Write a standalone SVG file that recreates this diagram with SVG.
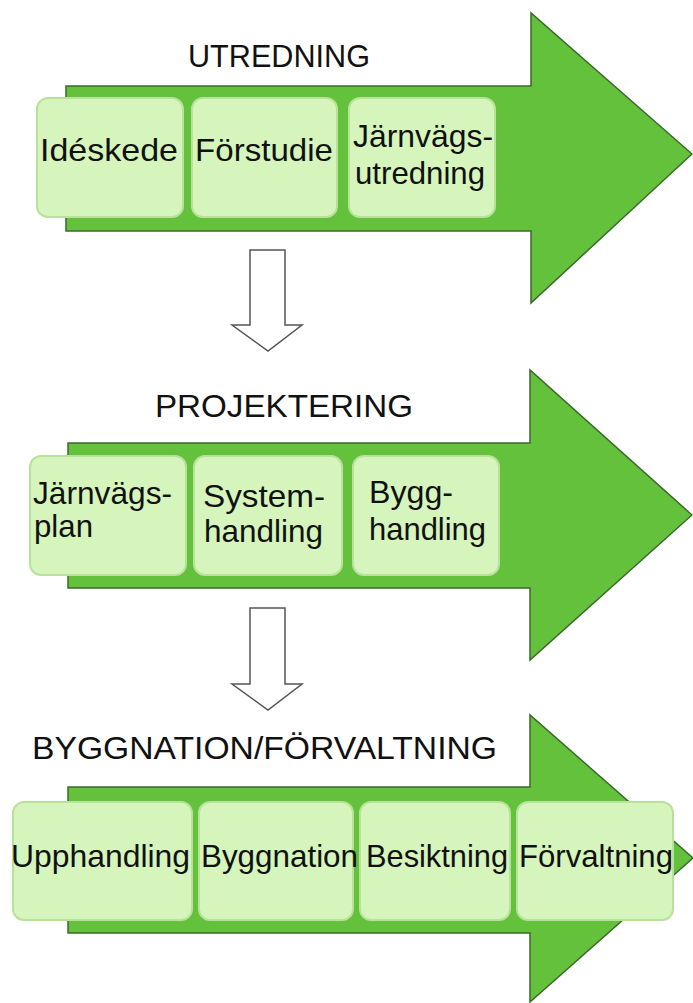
<svg xmlns="http://www.w3.org/2000/svg" width="693" height="1003" viewBox="0 0 693 1003">
<style>
.bg{fill:#ffffff}
.big{fill:#63c13c;stroke:#3a6a2a;stroke-width:1.5;stroke-linejoin:miter}
.box{fill:#d5f5bd;stroke:#b9e19c;stroke-width:2}
.t{font-family:"Liberation Sans",Arial,sans-serif;font-size:31px;fill:#111}
.b{font-size:32px}
.flow{fill:#ffffff;stroke:#555;stroke-width:1.5;stroke-linejoin:miter}
</style>
<rect class="bg" x="0" y="0" width="693" height="1003"/>

<g id="utredning">
  <path class="big" d="M66,86 H531 V13 L692,154 L531,303 V231 H66 Z"/>
  <text class="t" x="188" y="67" textLength="182" lengthAdjust="spacingAndGlyphs">UTREDNING</text>
</g>
<g id="ideskede">
  <rect class="box" x="37" y="98" width="146" height="119" rx="11"/>
  <text class="t b" x="40" y="161" textLength="138" lengthAdjust="spacingAndGlyphs">Idéskede</text>
</g>
<g id="forstudie">
  <rect class="box" x="192" y="98" width="145" height="119" rx="11"/>
  <text class="t b" x="195" y="161" textLength="138" lengthAdjust="spacingAndGlyphs">Förstudie</text>
</g>
<g id="jarnvagsutredning">
  <rect class="box" x="349" y="98" width="146" height="119" rx="11"/>
  <text class="t b" x="353" y="147" textLength="140" lengthAdjust="spacingAndGlyphs">Järnvägs-</text>
  <text class="t b" x="355" y="184" textLength="130" lengthAdjust="spacingAndGlyphs">utredning</text>
</g>

<g id="projektering">
  <path class="big" d="M68,443 H530 V370 L692,515 L530,660 V588 H68 Z"/>
  <text class="t" x="155" y="417" textLength="258" lengthAdjust="spacingAndGlyphs">PROJEKTERING</text>
</g>
<g id="jarnvagsplan">
  <rect class="box" x="30" y="456" width="156" height="119" rx="11"/>
  <text class="t b" x="33" y="504" textLength="139" lengthAdjust="spacingAndGlyphs">Järnvägs-</text>
  <text class="t b" x="34" y="537" textLength="59" lengthAdjust="spacingAndGlyphs">plan</text>
</g>
<g id="systemhandling">
  <rect class="box" x="194" y="456" width="148" height="119" rx="11"/>
  <text class="t b" x="203" y="507" textLength="122" lengthAdjust="spacingAndGlyphs">System-</text>
  <text class="t b" x="204" y="542" textLength="119" lengthAdjust="spacingAndGlyphs">handling</text>
</g>
<g id="bygghandling">
  <rect class="box" x="353" y="456" width="146" height="119" rx="11"/>
  <text class="t b" x="369" y="503" textLength="84" lengthAdjust="spacingAndGlyphs">Bygg-</text>
  <text class="t b" x="369" y="540" textLength="117" lengthAdjust="spacingAndGlyphs">handling</text>
</g>

<g id="byggnation-forvaltning">
  <path class="big" d="M68,787 H530 V715 L693,858 L530,1002 V933 H68 Z"/>
  <text class="t" x="32" y="759" textLength="465" lengthAdjust="spacingAndGlyphs">BYGGNATION/FÖRVALTNING</text>
</g>
<g id="upphandling">
  <rect class="box" x="13" y="802" width="179" height="118" rx="11"/>
  <text class="t b" x="11" y="867" textLength="179" lengthAdjust="spacingAndGlyphs">Upphandling</text>
</g>
<g id="byggnation">
  <rect class="box" x="199" y="802" width="154" height="118" rx="11"/>
  <text class="t b" x="201" y="867" textLength="157" lengthAdjust="spacingAndGlyphs">Byggnation</text>
</g>
<g id="besiktning">
  <rect class="box" x="360" y="802" width="150" height="118" rx="11"/>
  <text class="t b" x="366" y="867" textLength="142" lengthAdjust="spacingAndGlyphs">Besiktning</text>
</g>
<g id="forvaltning">
  <rect class="box" x="517" y="802" width="156" height="118" rx="11"/>
  <text class="t b" x="519" y="867" textLength="154" lengthAdjust="spacingAndGlyphs">Förvaltning</text>
</g>

<g id="connectors">
  <path class="flow" d="M250,250 H285 V325 H302 L268,351 L232,325 H250 Z"/>
  <path class="flow" d="M250,608 H285 V684 H302 L268,710 L232,684 H250 Z"/>
</g>
</svg>
